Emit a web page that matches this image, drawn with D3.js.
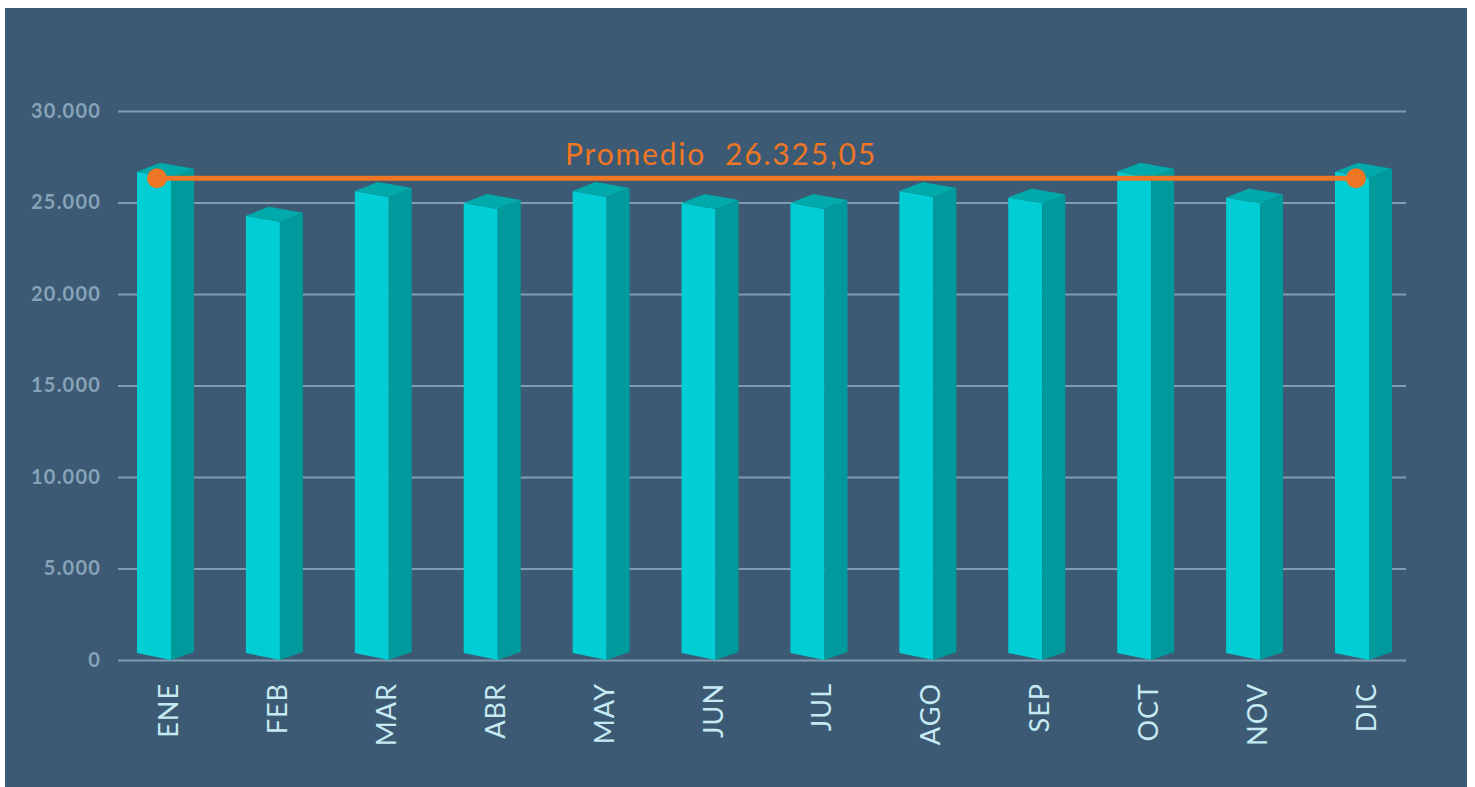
<!DOCTYPE html>
<html>
<head>
<meta charset="utf-8">
<script src="https://cdn.jsdelivr.net/npm/d3@7"></script>
<style>
  body { margin: 0; background: #ffffff; }
  svg { display: block; }
</style>
</head>
<body>
<svg id="chart" width="1475" height="787"></svg>
<script>
// datos
const meses = ["ENE", "FEB", "MAR", "ABR", "MAY", "JUN", "JUL", "AGO", "SEP", "OCT", "NOV", "DIC"];
const valores = [26350, 23950, 25300, 24650, 25300, 24650, 24650, 25300, 24950, 26350, 24950, 26350];
const promedio = 26325.05;
const ticksY = [0, 5000, 10000, 15000, 20000, 25000, 30000];

const es = d3.formatLocale({ decimal: ",", thousands: ".", grouping: [3], currency: ["", ""] });
const fmtMiles = es.format(",");
const fmtProm = es.format(",.2f");

const svg = d3.select("#chart");

// panel de fondo
svg.append("rect")
  .attr("x", 5).attr("y", 8)
  .attr("width", 1462).attr("height", 779)
  .attr("fill", "#3c5a73");

const y = d3.scaleLinear().domain([0, 30000]).range([660, 111]);
const x = d3.scalePoint().domain(meses).range([171, 1369]);

// ejes / lineas de rejilla
const ejeY = d3.axisLeft(y)
  .tickValues(ticksY)
  .tickFormat(fmtMiles)
  .tickSize(-(1406 - 118))
  .tickPadding(17);

const gY = svg.append("g")
  .attr("transform", "translate(118,0)")
  .call(ejeY);
gY.select(".domain").remove();
gY.selectAll(".tick line")
  .attr("stroke", "#7f9cb2")
  .attr("stroke-width", 2);
gY.selectAll(".tick text")
  .attr("fill", "#87a3b8")
  .attr("font-family", "Lato, 'Open Sans', sans-serif")
  .attr("font-weight", 700)
  .attr("font-size", 20)
  .attr("letter-spacing", "1.2px");

// barras 3D: cara frontal, lateral y superior
const frontW = 34, sideW = 23;
const base = y(0);

function pts(a) { return a.map(p => p.join(",")).join(" "); }

const barras = svg.append("g").selectAll("g")
  .data(meses.map((m, i) => ({ mes: m, valor: valores[i] })))
  .join("g");

barras.append("polygon")
  .attr("fill", "#00ced4")
  .attr("points", d => {
    const cx = x(d.mes), ty = y(d.valor);
    return pts([[cx - frontW, base - 7], [cx, base], [cx, ty], [cx - frontW, ty - 6]]);
  });

barras.append("polygon")
  .attr("fill", "#009a9c")
  .attr("points", d => {
    const cx = x(d.mes), ty = y(d.valor);
    return pts([[cx, base], [cx + sideW, base - 8], [cx + sideW, ty - 9], [cx, ty]]);
  });

barras.append("polygon")
  .attr("fill", "#00a9aa")
  .attr("points", d => {
    const cx = x(d.mes), ty = y(d.valor);
    return pts([[cx - frontW, ty - 6], [cx - frontW + sideW, ty - 15], [cx + sideW, ty - 9], [cx, ty]]);
  });

// etiquetas de meses
svg.append("g").selectAll("text")
  .data(meses)
  .join("text")
  .attr("transform", d => `translate(${x(d) + 7},683) rotate(-90)`)
  .attr("text-anchor", "end")
  .attr("fill", "#c6eaf4")
  .attr("font-family", "Lato, 'Open Sans', sans-serif")
  .attr("font-size", 27)
  .attr("letter-spacing", "1px")
  .text(d => d);

// linea del promedio
const naranja = "#ee7624";
const x0 = x(meses[0]) - 14, x1 = x(meses[meses.length - 1]) - 13;
svg.append("line")
  .attr("x1", x0).attr("x2", x1)
  .attr("y1", y(promedio)).attr("y2", y(promedio))
  .attr("stroke", naranja)
  .attr("stroke-width", 5);

svg.selectAll("circle.punto")
  .data([x0, x1])
  .join("circle")
  .attr("class", "punto")
  .attr("cx", d => d)
  .attr("cy", y(promedio))
  .attr("r", 10)
  .attr("fill", naranja);

svg.append("text")
  .attr("x", 721)
  .attr("y", 165)
  .attr("text-anchor", "middle")
  .attr("fill", naranja)
  .attr("font-family", "Lato, 'Open Sans', sans-serif")
  .attr("font-weight", 400)
  .attr("font-size", 30)
  .attr("letter-spacing", "1.8px")
  .style("white-space", "pre")
  .text("Promedio  " + fmtProm(promedio));
</script>
</body>
</html>
